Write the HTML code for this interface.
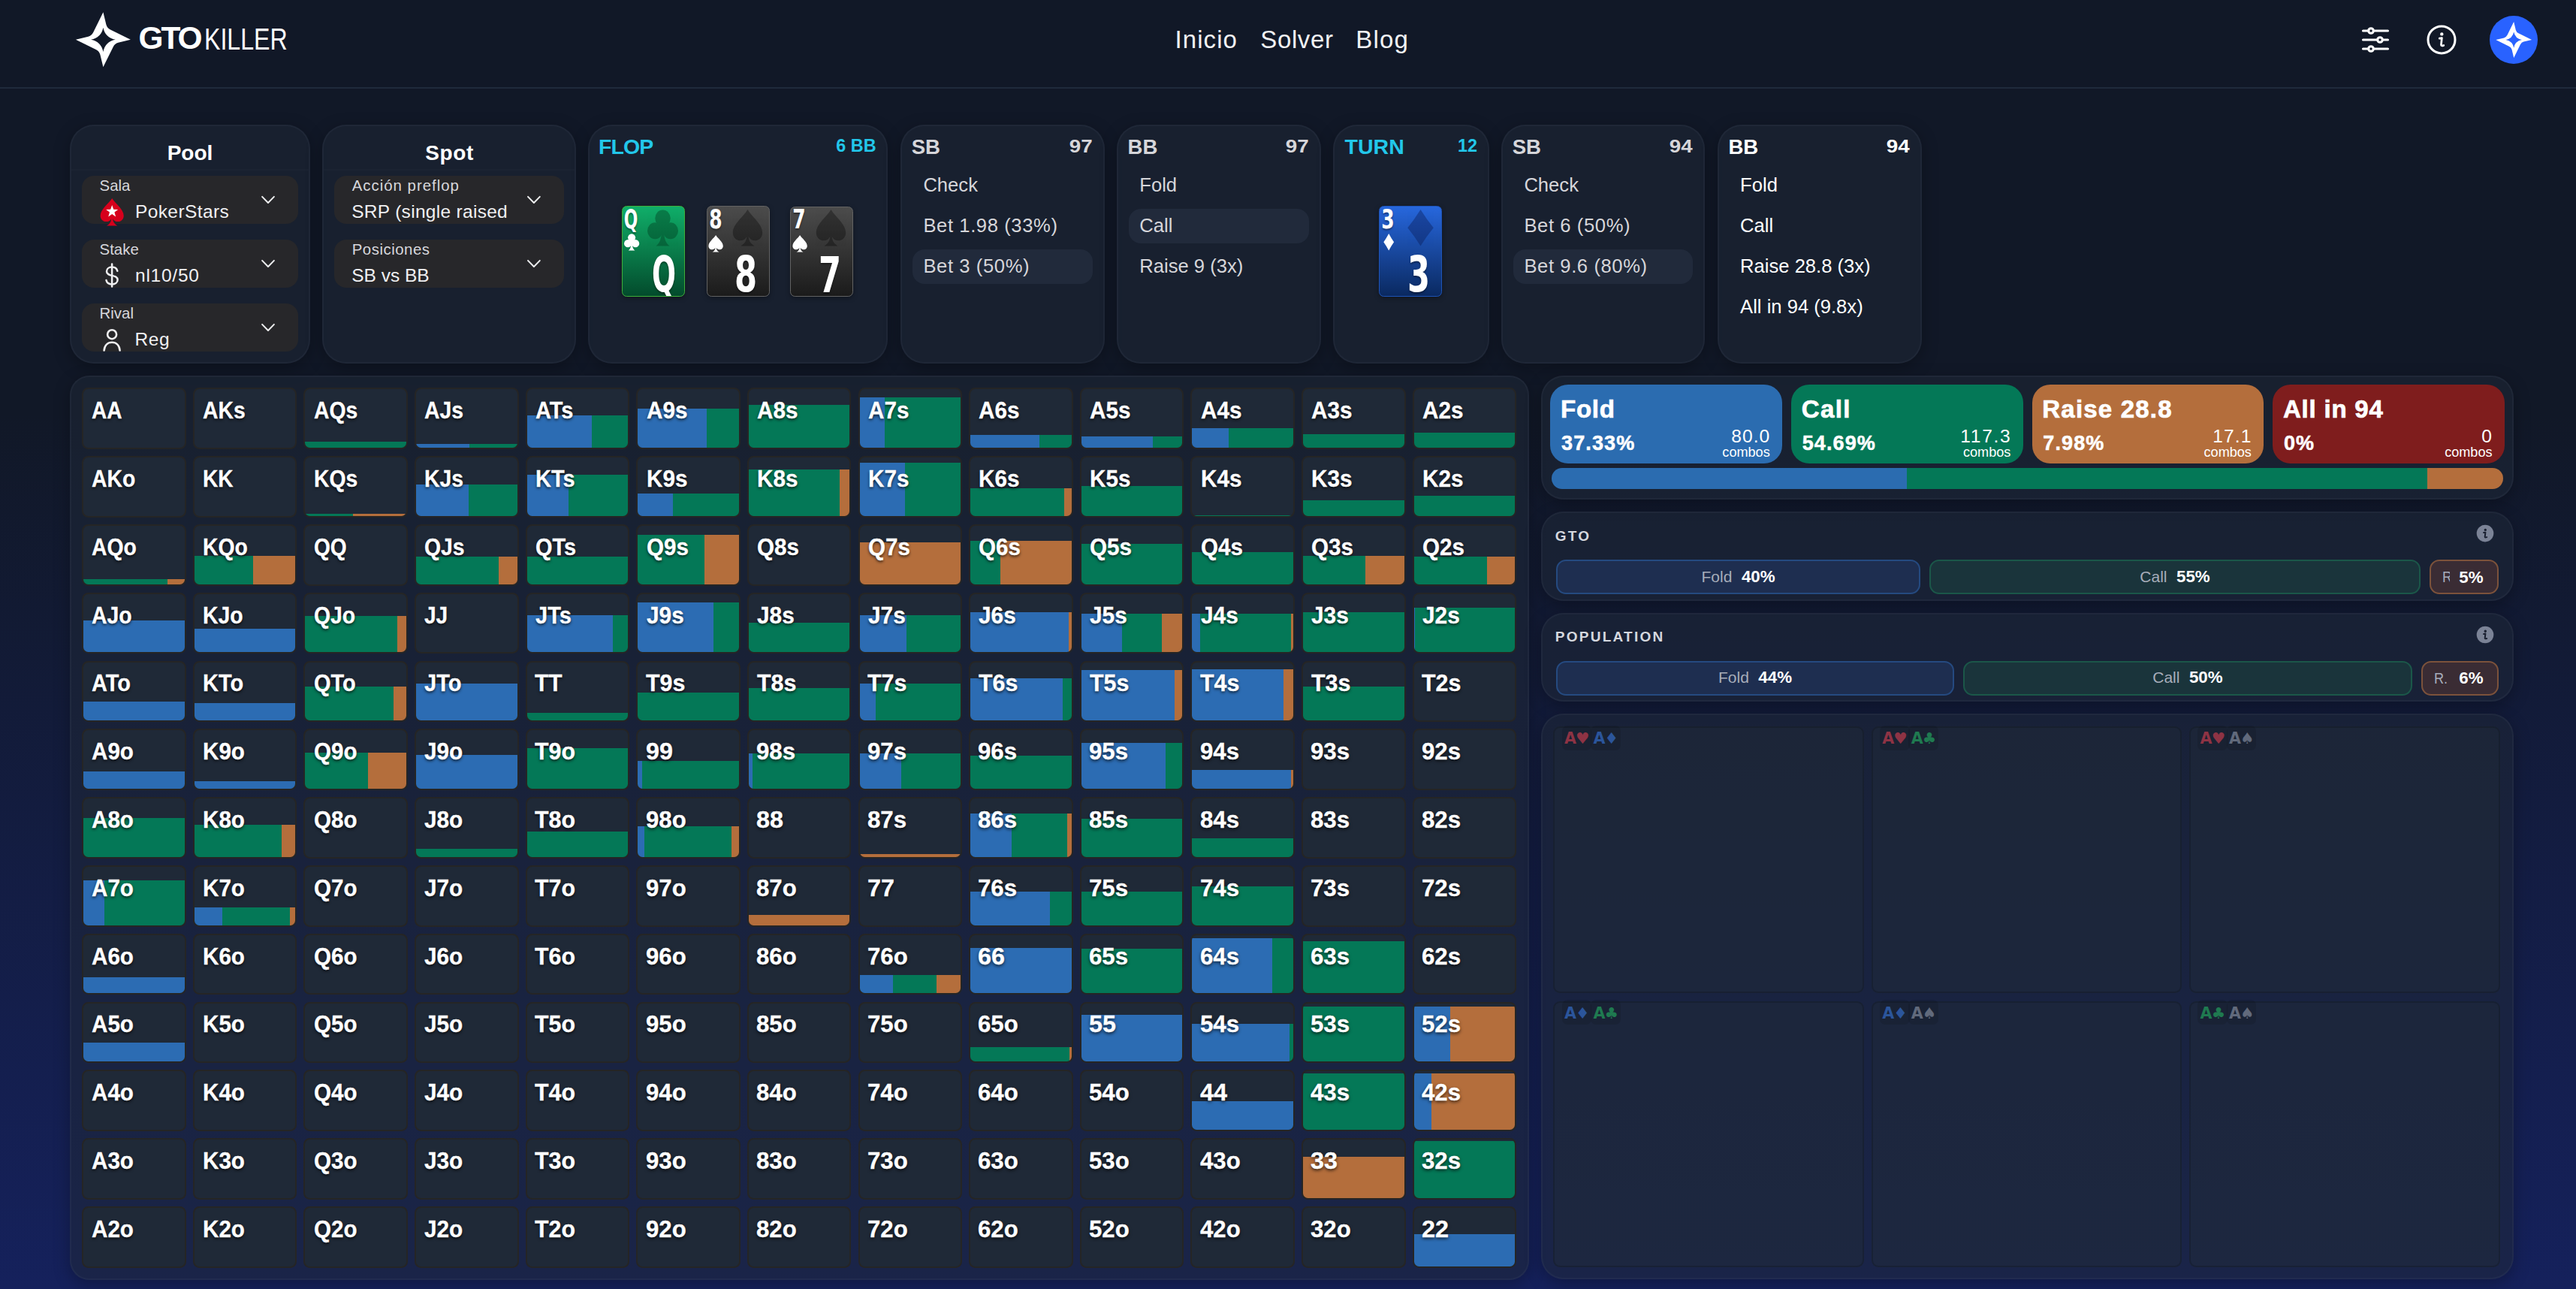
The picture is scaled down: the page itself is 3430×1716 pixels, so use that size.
<!DOCTYPE html>
<html lang="es"><head><meta charset="utf-8"><title>GTO Killer - Solver</title>
<style>
*{box-sizing:border-box;margin:0;padding:0}
html,body{width:3430px;height:1716px;overflow:hidden}
body{position:relative;font-family:"Liberation Sans",sans-serif;color:#fff;
background:linear-gradient(180deg,#111827 0%,#111827 32%,#15215c 100%)}
.t{position:absolute;white-space:nowrap;line-height:1;display:block}
.panel{position:absolute;background:rgba(31,40,56,.52);border:2px solid rgba(148,163,184,.06);
border-radius:32px;box-shadow:0 6px 22px rgba(0,0,0,.28)}
.sel{position:absolute;background:#27272a;border-radius:16px}
.hl{position:absolute;background:#212a3b;border-radius:16px}
.cell{position:absolute;background:#1f2937;border:2px solid #252525;border-radius:8.5px;overflow:hidden}
.cell i{position:absolute;left:0;right:0;bottom:0;display:flex}
.cell i b{display:block;height:100%}
.B{background:#2c6cb3}.G{background:#047857}.O{background:#b46e3c}
.ct{position:absolute;white-space:nowrap;line-height:1;font-weight:700;font-size:30.5px;color:#fff;transform-origin:0 50%;
text-shadow:0 2px 4px rgba(0,0,0,.75);-webkit-text-stroke:.3px #fff}
.sym{font-family:"DejaVu Sans",sans-serif}
svg{position:absolute;overflow:visible}
</style></head>
<body>
<div style="position:absolute;left:0.0px;top:116.0px;width:3430.0px;height:2.0px;background:#1f2a3b"></div>
<svg style="left:0;top:0" width="1" height="1"><path transform="translate(137.4,52.8) scale(1.0)" fill="#fff" fill-rule="evenodd" d="M0,-36.5 L4.00,-20.00 Q5.20,-15.60 9.60,-13.30 L36.50,0.00 L20.00,4.00 Q15.60,5.20 13.30,9.60 L0.00,36.50 L-4.00,20.00 Q-5.20,15.60 -9.60,13.30 L-36.50,0.00 L-20.00,-4.00 Q-15.60,-5.20 -13.30,-9.60 L-0.00,-36.50 Z M0,-16 Q2.6,-2.6 16.3,0 Q2.6,2.6 0,16.3 Q-2.6,2.6 -16.3,0 Q-2.6,-2.6 0,-16 Z"/></svg>
<span class="t" style="left:184.6px;top:29.5px;font-size:42.4px;font-weight:700;color:#fff;letter-spacing:-3.1px;">GTO</span>
<span class="t" style="left:272.0px;top:31.9px;font-size:40px;font-weight:400;color:#fff;transform:scaleX(.803);transform-origin:0 50%;">KILLER</span>
<span class="t" style="left:1564.6px;top:36.2px;font-size:33px;font-weight:400;color:#f1f2f4;letter-spacing:1.05px;">Inicio</span>
<span class="t" style="left:1678.3px;top:36.2px;font-size:33px;font-weight:400;color:#f1f2f4;letter-spacing:0.62px;">Solver</span>
<span class="t" style="left:1805.2px;top:36.2px;font-size:33px;font-weight:400;color:#f1f2f4;letter-spacing:1.2px;">Blog</span>
<svg style="left:0;top:0" width="1" height="1" fill="#111827" stroke="#fff" stroke-width="3.1" stroke-linecap="round"><path d="M3146.5,41H3179.5M3146.5,53H3179.5M3146.5,65H3179.5"/><circle cx="3157" cy="41" r="3.3"/><circle cx="3169" cy="53" r="3.3"/><circle cx="3157" cy="65" r="3.3"/></svg>
<svg style="left:0;top:0" width="1" height="1" fill="none" stroke="#fff" stroke-linecap="round" stroke-linejoin="round"><circle cx="3251" cy="52.9" r="18" stroke-width="3"/><circle cx="3251.3" cy="45.4" r="2.2" fill="#fff" stroke="none"/><path d="M3248.2,51.2 L3251.4,50.6 L3250.4,59.6 Q3250.4,61.6 3253.8,60.4" stroke-width="2.7"/></svg>
<div style="position:absolute;left:3315.2px;top:20.9px;width:64.0px;height:64.0px;background:#2962ff;border-radius:50%"></div>
<svg style="left:0;top:0" width="1" height="1"><path transform="translate(3347.2,53) scale(0.655)" fill="#fff" fill-rule="evenodd" d="M0,-36.5 L4.00,-20.00 Q5.20,-15.60 9.60,-13.30 L36.50,0.00 L20.00,4.00 Q15.60,5.20 13.30,9.60 L0.00,36.50 L-4.00,20.00 Q-5.20,15.60 -9.60,13.30 L-36.50,0.00 L-20.00,-4.00 Q-15.60,-5.20 -13.30,-9.60 L-0.00,-36.50 Z M0,-16 Q2.6,-2.6 16.3,0 Q2.6,2.6 0,16.3 Q-2.6,2.6 -16.3,0 Q-2.6,-2.6 0,-16 Z"/></svg>
<div class="panel" style="left:93.3px;top:166.3px;width:320px;height:317.3px"></div>
<div style="position:absolute;left:95.3px;top:225.0px;width:316.0px;height:2.0px;background:rgba(255,255,255,.014)"></div>
<span class="t" style="left:222.7px;top:190.3px;font-size:28px;font-weight:700;color:#fff;">Pool</span>
<div class="sel" style="left:109px;top:234px;width:288.2px;height:64px"></div><span class="t" style="left:132.6px;top:236.5px;font-size:20.4px;font-weight:400;color:#d7d7dc;letter-spacing:0px;">Sala</span><span class="t" style="left:179.9px;top:269.5px;font-size:24.5px;font-weight:400;color:#f0f0f2;letter-spacing:0.42px;">PokerStars</span><svg style="left:0;top:0" width="1" height="1"><path d="M349.1,261.9 L357.0,270.0 L364.9,261.9" fill="none" stroke="#ecedee" stroke-width="2.0" stroke-linecap="round" stroke-linejoin="round"/></svg><svg style="left:132.8px;top:264px" width="32.4" height="36.4" viewBox="0 0 100 110" preserveAspectRatio="none"><path fill="#d7001c" d="M50,0 C36,22 2,44 2,70 C2,85 14,94 26,94 C35,94 43,90 47,82 C46,95 40,104 28,110 L72,110 C60,104 54,95 53,82 C57,90 65,94 74,94 C86,94 98,85 98,70 C98,44 64,22 50,0 Z"/><path fill="#fff" d="M50,27 L56.2,44.5 L74.7,45 L60,56.2 L65.3,74 L50,63.5 L34.7,74 L40,56.2 L25.3,45 L43.8,44.5 Z"/></svg>
<div class="sel" style="left:109px;top:319px;width:288.2px;height:64px"></div><span class="t" style="left:132.6px;top:321.5px;font-size:20.4px;font-weight:400;color:#d7d7dc;letter-spacing:0px;">Stake</span><span class="t" style="left:180.0px;top:354.5px;font-size:24.5px;font-weight:400;color:#f0f0f2;letter-spacing:0.75px;">nl10/50</span><svg style="left:0;top:0" width="1" height="1"><path d="M349.1,346.9 L357.0,355.0 L364.9,346.9" fill="none" stroke="#ecedee" stroke-width="2.0" stroke-linecap="round" stroke-linejoin="round"/></svg><svg style="left:0;top:0" width="1" height="1" fill="none" stroke="#f0f0f2" stroke-width="2.5" stroke-linecap="round"><path d="M149.1,351.6V381.6"/><path d="M156.3,360.8 C155.5,357.2 152.6,355.6 149.1,355.6 C145,355.6 142,357.9 142,361.2 C142,369.2 156.6,364.6 156.6,372.6 C156.6,376 153.4,378.4 149.1,378.4 C145.2,378.4 142.2,376.6 141.5,373"/></svg>
<div class="sel" style="left:109px;top:404px;width:288.2px;height:64px"></div><span class="t" style="left:132.6px;top:406.5px;font-size:20.4px;font-weight:400;color:#d7d7dc;letter-spacing:0px;">Rival</span><span class="t" style="left:179.6px;top:439.5px;font-size:24.5px;font-weight:400;color:#f0f0f2;letter-spacing:0.5px;">Reg</span><svg style="left:0;top:0" width="1" height="1"><path d="M349.1,431.9 L357.0,440.0 L364.9,431.9" fill="none" stroke="#ecedee" stroke-width="2.0" stroke-linecap="round" stroke-linejoin="round"/></svg><svg style="left:0;top:0" width="1" height="1" fill="none" stroke="#f0f0f2" stroke-width="2.6" stroke-linecap="round"><circle cx="149.1" cy="445.2" r="6"/><path d="M138.6,466.5 C139.2,459.8 143.4,455.7 149.1,455.7 C154.8,455.7 159,459.8 159.6,466.5"/></svg>
<div class="panel" style="left:429.3px;top:166.3px;width:337.8px;height:317.3px"></div>
<div style="position:absolute;left:431.3px;top:225.0px;width:333.8px;height:2.0px;background:rgba(255,255,255,.014)"></div>
<span class="t" style="left:566.2px;top:190.3px;font-size:28px;font-weight:700;color:#fff;letter-spacing:.65px;">Spot</span>
<div class="sel" style="left:445.1px;top:234px;width:306px;height:64px"></div><span class="t" style="left:468.7px;top:236.5px;font-size:20.4px;font-weight:400;color:#d7d7dc;letter-spacing:1.0px;">Acción preflop</span><span class="t" style="left:468.2px;top:269.5px;font-size:24.5px;font-weight:400;color:#f0f0f2;letter-spacing:0.3px;">SRP (single raised</span><svg style="left:0;top:0" width="1" height="1"><path d="M703.0,261.9 L710.9,270.0 L718.8,261.9" fill="none" stroke="#ecedee" stroke-width="2.0" stroke-linecap="round" stroke-linejoin="round"/></svg>
<div class="sel" style="left:445.1px;top:319px;width:306px;height:64px"></div><span class="t" style="left:468.7px;top:321.5px;font-size:20.4px;font-weight:400;color:#d7d7dc;letter-spacing:0.52px;">Posiciones</span><span class="t" style="left:468.2px;top:354.5px;font-size:24.5px;font-weight:400;color:#f0f0f2;letter-spacing:0px;">SB vs BB</span><svg style="left:0;top:0" width="1" height="1"><path d="M703.0,346.9 L710.9,355.0 L718.8,346.9" fill="none" stroke="#ecedee" stroke-width="2.0" stroke-linecap="round" stroke-linejoin="round"/></svg>
<div class="panel" style="left:783.1px;top:166.3px;width:399.4px;height:317.3px"></div>
<span class="t" style="left:797.0px;top:181.1px;font-size:28.5px;font-weight:700;color:#22c7ea;letter-spacing:-.95px;">FLOP</span>
<span class="t" style="right:2263.4px;top:183.1px;font-size:23.4px;font-weight:700;color:#22c7ea;">6 BB</span>
<div style="position:absolute;left:828.1px;top:274.0px;width:84.0px;height:120.5px;background:linear-gradient(180deg,#10ae69,#034b2c);border:1.5px solid #3fae3a;border-radius:6.5px;overflow:hidden;box-shadow:0 2px 6px rgba(0,0,0,.35)"><svg style="left:33.4px;top:3.8px;opacity:0.42" width="41.0" height="48.4" viewBox="0 0 100 110" preserveAspectRatio="none" fill="#003d20"><circle cx="50" cy="26" r="25"/><circle cx="25" cy="64" r="25"/><circle cx="75" cy="64" r="25"/><circle cx="50" cy="54" r="14"/><path d="M46,60 C46,86 42,100 28,110 L72,110 C58,100 54,86 54,60 Z"/></svg><span class="t" style="left:-18.8px;top:-1.4px;font-size:35.4px;font-weight:700;color:#fff;width:60px;text-align:center;transform:scaleX(0.615);text-shadow:0 2px 3px rgba(0,0,0,.4);font-family:'DejaVu Sans','Liberation Sans',sans-serif;">Q</span><svg style="left:1.9px;top:35.6px;opacity:1" width="20.2" height="22.6" viewBox="0 0 100 110" preserveAspectRatio="none" fill="#fff"><circle cx="50" cy="26" r="25"/><circle cx="25" cy="64" r="25"/><circle cx="75" cy="64" r="25"/><circle cx="50" cy="54" r="14"/><path d="M46,60 C46,86 42,100 28,110 L72,110 C58,100 54,86 54,60 Z"/></svg><span class="t" style="left:4.6px;top:58.2px;font-size:65.5px;font-weight:700;color:#fff;width:100px;text-align:center;transform:scaleX(0.575);text-shadow:0 2px 3px rgba(0,0,0,.4);font-family:'DejaVu Sans','Liberation Sans',sans-serif;">Q</span></div>
<div style="position:absolute;left:940.6px;top:274.3px;width:84.0px;height:120.5px;background:linear-gradient(180deg,#4c4c4c,#1b1b1b);border:1.5px solid #626262;border-radius:6.5px;overflow:hidden;box-shadow:0 2px 6px rgba(0,0,0,.35)"><svg style="left:33.4px;top:3.8px;opacity:0.33" width="41.0" height="48.4" viewBox="0 0 100 110" preserveAspectRatio="none" fill="#000"><path d="M50,0 C36,22 2,44 2,70 C2,85 14,94 26,94 C35,94 43,90 47,82 C46,95 40,104 28,110 L72,110 C60,104 54,95 53,82 C57,90 65,94 74,94 C86,94 98,85 98,70 C98,44 64,22 50,0 Z"/></svg><span class="t" style="left:-18.8px;top:-1.4px;font-size:35.4px;font-weight:700;color:#fff;width:60px;text-align:center;transform:scaleX(0.706);text-shadow:0 2px 3px rgba(0,0,0,.4);font-family:'DejaVu Sans','Liberation Sans',sans-serif;">8</span><svg style="left:1.9px;top:37.8px;opacity:1" width="20.2" height="22.6" viewBox="0 0 100 110" preserveAspectRatio="none" fill="#fff"><path d="M50,0 C36,22 2,44 2,70 C2,85 14,94 26,94 C35,94 43,90 47,82 C46,95 40,104 28,110 L72,110 C60,104 54,95 53,82 C57,90 65,94 74,94 C86,94 98,85 98,70 C98,44 64,22 50,0 Z"/></svg><span class="t" style="left:1.6px;top:58.2px;font-size:65.5px;font-weight:700;color:#fff;width:100px;text-align:center;transform:scaleX(0.66);text-shadow:0 2px 3px rgba(0,0,0,.4);font-family:'DejaVu Sans','Liberation Sans',sans-serif;">8</span></div>
<div style="position:absolute;left:1052.0px;top:274.6px;width:84.0px;height:120.5px;background:linear-gradient(180deg,#4c4c4c,#1b1b1b);border:1.5px solid #626262;border-radius:6.5px;overflow:hidden;box-shadow:0 2px 6px rgba(0,0,0,.35)"><svg style="left:33.4px;top:3.8px;opacity:0.33" width="41.0" height="48.4" viewBox="0 0 100 110" preserveAspectRatio="none" fill="#000"><path d="M50,0 C36,22 2,44 2,70 C2,85 14,94 26,94 C35,94 43,90 47,82 C46,95 40,104 28,110 L72,110 C60,104 54,95 53,82 C57,90 65,94 74,94 C86,94 98,85 98,70 C98,44 64,22 50,0 Z"/></svg><span class="t" style="left:-18.8px;top:-1.4px;font-size:35.4px;font-weight:700;color:#fff;width:60px;text-align:center;transform:scaleX(0.706);text-shadow:0 2px 3px rgba(0,0,0,.4);font-family:'DejaVu Sans','Liberation Sans',sans-serif;">7</span><svg style="left:1.9px;top:37.8px;opacity:1" width="20.2" height="22.6" viewBox="0 0 100 110" preserveAspectRatio="none" fill="#fff"><path d="M50,0 C36,22 2,44 2,70 C2,85 14,94 26,94 C35,94 43,90 47,82 C46,95 40,104 28,110 L72,110 C60,104 54,95 53,82 C57,90 65,94 74,94 C86,94 98,85 98,70 C98,44 64,22 50,0 Z"/></svg><span class="t" style="left:1.6px;top:58.2px;font-size:65.5px;font-weight:700;color:#fff;width:100px;text-align:center;transform:scaleX(0.66);text-shadow:0 2px 3px rgba(0,0,0,.4);font-family:'DejaVu Sans','Liberation Sans',sans-serif;">7</span></div>
<div class="panel" style="left:1199.3px;top:166.3px;width:271.7px;height:317.3px"></div><span class="t" style="left:1213.7px;top:181.6px;font-size:27.6px;font-weight:700;color:#d6d6da;">SB</span><span class="t" style="right:1975.6px;top:183.3px;font-size:24.8px;font-weight:700;color:#d6d6da;transform:scaleX(1.12);transform-origin:100% 50%;">97</span><span class="t" style="left:1229.4px;top:234.0px;font-size:25.6px;font-weight:400;color:#d6d6da;letter-spacing:0px;">Check</span><span class="t" style="left:1229.4px;top:288.0px;font-size:25.6px;font-weight:400;color:#d6d6da;letter-spacing:0.6px;">Bet 1.98 (33%)</span><div class="hl" style="left:1215.3px;top:332px;width:239.7px;height:46px"></div><span class="t" style="left:1229.4px;top:342.0px;font-size:25.6px;font-weight:400;color:#d6d6da;letter-spacing:0.6px;">Bet 3 (50%)</span>
<div class="panel" style="left:1487.2px;top:166.3px;width:271.7px;height:317.3px"></div><span class="t" style="left:1501.6px;top:181.6px;font-size:27.6px;font-weight:700;color:#d6d6da;">BB</span><span class="t" style="right:1687.7px;top:183.3px;font-size:24.8px;font-weight:700;color:#d6d6da;transform:scaleX(1.12);transform-origin:100% 50%;">97</span><span class="t" style="left:1517.3px;top:234.0px;font-size:25.6px;font-weight:400;color:#d6d6da;letter-spacing:0px;">Fold</span><div class="hl" style="left:1503.2px;top:278px;width:239.7px;height:46px"></div><span class="t" style="left:1517.3px;top:288.0px;font-size:25.6px;font-weight:400;color:#d6d6da;letter-spacing:0px;">Call</span><span class="t" style="left:1517.3px;top:342.0px;font-size:25.6px;font-weight:400;color:#d6d6da;letter-spacing:0px;">Raise 9 (3x)</span>
<div class="panel" style="left:1775.2px;top:166.3px;width:207.5px;height:317.3px"></div>
<span class="t" style="left:1790.6px;top:181.3px;font-size:28.5px;font-weight:700;color:#22c7ea;">TURN</span>
<span class="t" style="right:1463.0px;top:183.4px;font-size:23.4px;font-weight:700;color:#22c7ea;">12</span>
<div style="position:absolute;left:1836.2px;top:274.0px;width:84.0px;height:120.5px;background:linear-gradient(180deg,#2767dd,#0a2960);border:1.5px solid #1e54b8;border-radius:6.5px;overflow:hidden;box-shadow:0 2px 6px rgba(0,0,0,.35)"><svg style="left:33.4px;top:3.8px;opacity:0.42" width="41.0" height="48.4" viewBox="0 0 100 110" preserveAspectRatio="none" fill="#0a1e5a"><path d="M50,0 Q70,30 92,55 Q70,80 50,110 Q30,80 8,55 Q30,30 50,0 Z"/></svg><span class="t" style="left:-18.8px;top:-1.4px;font-size:35.4px;font-weight:700;color:#fff;width:60px;text-align:center;transform:scaleX(0.706);text-shadow:0 2px 3px rgba(0,0,0,.4);font-family:'DejaVu Sans','Liberation Sans',sans-serif;">3</span><svg style="left:3.8px;top:36.3px;opacity:1" width="16.4" height="22.6" viewBox="0 0 100 110" preserveAspectRatio="none" fill="#fff"><path d="M50,0 Q70,30 92,55 Q70,80 50,110 Q30,80 8,55 Q30,30 50,0 Z"/></svg><span class="t" style="left:1.6px;top:58.2px;font-size:65.5px;font-weight:700;color:#fff;width:100px;text-align:center;transform:scaleX(0.66);text-shadow:0 2px 3px rgba(0,0,0,.4);font-family:'DejaVu Sans','Liberation Sans',sans-serif;">3</span></div>
<div class="panel" style="left:1999.3px;top:166.3px;width:271px;height:317.3px"></div><span class="t" style="left:2013.7px;top:181.6px;font-size:27.6px;font-weight:700;color:#d6d6da;">SB</span><span class="t" style="right:1176.3px;top:183.3px;font-size:24.8px;font-weight:700;color:#d6d6da;transform:scaleX(1.12);transform-origin:100% 50%;">94</span><span class="t" style="left:2029.4px;top:234.0px;font-size:25.6px;font-weight:400;color:#d6d6da;letter-spacing:0px;">Check</span><span class="t" style="left:2029.4px;top:288.0px;font-size:25.6px;font-weight:400;color:#d6d6da;letter-spacing:0.6px;">Bet 6 (50%)</span><div class="hl" style="left:2015.3px;top:332px;width:239px;height:46px"></div><span class="t" style="left:2029.4px;top:342.0px;font-size:25.6px;font-weight:400;color:#d6d6da;letter-spacing:0.6px;">Bet 9.6 (80%)</span>
<div class="panel" style="left:2287px;top:166.3px;width:272px;height:317.3px"></div><span class="t" style="left:2301.4px;top:181.6px;font-size:27.6px;font-weight:700;color:#fff;">BB</span><span class="t" style="right:887.6px;top:183.3px;font-size:24.8px;font-weight:700;color:#fff;transform:scaleX(1.12);transform-origin:100% 50%;">94</span><span class="t" style="left:2317.1px;top:234.0px;font-size:25.6px;font-weight:400;color:#fff;letter-spacing:0px;">Fold</span><span class="t" style="left:2317.1px;top:288.0px;font-size:25.6px;font-weight:400;color:#fff;letter-spacing:0px;">Call</span><span class="t" style="left:2317.1px;top:342.0px;font-size:25.6px;font-weight:400;color:#fff;letter-spacing:0px;">Raise 28.8 (3x)</span><span class="t" style="left:2317.1px;top:396.0px;font-size:25.6px;font-weight:400;color:#fff;letter-spacing:0px;">All in 94 (9.8x)</span>
<div class="panel" style="left:93px;top:500px;width:1942.7px;height:1203.8px;border-radius:26px"></div>
<div class="cell" style="left:109.1px;top:516.3px;width:138.6px;height:81.8px"><span class="ct" style="left:11.4px;top:12.9px;transform:scaleX(0.920)">AA</span></div>
<div class="cell" style="left:256.7px;top:516.3px;width:138.6px;height:81.8px"><span class="ct" style="left:11.4px;top:12.9px;transform:scaleX(0.928)">AKs</span></div>
<div class="cell" style="left:404.4px;top:516.3px;width:138.6px;height:81.8px"><i style="height:10%"><b class="G" style="width:100%"></b></i><span class="ct" style="left:11.4px;top:12.9px;transform:scaleX(0.928)">AQs</span></div>
<div class="cell" style="left:552.0px;top:516.3px;width:138.6px;height:81.8px"><i style="height:7%"><b class="B" style="width:53%"></b><b class="G" style="width:47%"></b></i><span class="ct" style="left:11.4px;top:12.9px;transform:scaleX(0.929)">AJs</span></div>
<div class="cell" style="left:699.6px;top:516.3px;width:138.6px;height:81.8px"><i style="height:55%"><b class="B" style="width:64%"></b><b class="G" style="width:36%"></b></i><span class="ct" style="left:11.4px;top:12.9px;transform:scaleX(0.948)">ATs</span></div>
<div class="cell" style="left:847.2px;top:516.3px;width:138.6px;height:81.8px"><i style="height:67%"><b class="B" style="width:68%"></b><b class="G" style="width:32%"></b></i><span class="ct" style="left:11.4px;top:12.9px;transform:scaleX(0.972)">A9s</span></div>
<div class="cell" style="left:994.9px;top:516.3px;width:138.6px;height:81.8px"><i style="height:73%"><b class="G" style="width:100%"></b></i><span class="ct" style="left:11.4px;top:12.9px;transform:scaleX(0.972)">A8s</span></div>
<div class="cell" style="left:1142.5px;top:516.3px;width:138.6px;height:81.8px"><i style="height:86%"><b class="B" style="width:25%"></b><b class="G" style="width:75%"></b></i><span class="ct" style="left:11.4px;top:12.9px;transform:scaleX(0.972)">A7s</span></div>
<div class="cell" style="left:1290.1px;top:516.3px;width:138.6px;height:81.8px"><i style="height:21.5%"><b class="B" style="width:68%"></b><b class="G" style="width:32%"></b></i><span class="ct" style="left:11.4px;top:12.9px;transform:scaleX(0.972)">A6s</span></div>
<div class="cell" style="left:1437.8px;top:516.3px;width:138.6px;height:81.8px"><i style="height:20%"><b class="B" style="width:71%"></b><b class="G" style="width:29%"></b></i><span class="ct" style="left:11.4px;top:12.9px;transform:scaleX(0.972)">A5s</span></div>
<div class="cell" style="left:1585.4px;top:516.3px;width:138.6px;height:81.8px"><i style="height:34%"><b class="B" style="width:36%"></b><b class="G" style="width:64%"></b></i><span class="ct" style="left:11.4px;top:12.9px;transform:scaleX(0.972)">A4s</span></div>
<div class="cell" style="left:1733.0px;top:516.3px;width:138.6px;height:81.8px"><i style="height:23%"><b class="G" style="width:100%"></b></i><span class="ct" style="left:11.4px;top:12.9px;transform:scaleX(0.972)">A3s</span></div>
<div class="cell" style="left:1880.7px;top:516.3px;width:138.6px;height:81.8px"><i style="height:25.5%"><b class="G" style="width:100%"></b></i><span class="ct" style="left:11.4px;top:12.9px;transform:scaleX(0.972)">A2s</span></div>
<div class="cell" style="left:109.1px;top:607.1px;width:138.6px;height:81.8px"><span class="ct" style="left:11.4px;top:12.9px;transform:scaleX(0.929)">AKo</span></div>
<div class="cell" style="left:256.7px;top:607.1px;width:138.6px;height:81.8px"><span class="ct" style="left:11.4px;top:12.9px;transform:scaleX(0.920)">KK</span></div>
<div class="cell" style="left:404.4px;top:607.1px;width:138.6px;height:81.8px"><i style="height:4%"><b class="G" style="width:47%"></b><b class="O" style="width:53%"></b></i><span class="ct" style="left:11.4px;top:12.9px;transform:scaleX(0.928)">KQs</span></div>
<div class="cell" style="left:552.0px;top:607.1px;width:138.6px;height:81.8px"><i style="height:54%"><b class="B" style="width:52%"></b><b class="G" style="width:48%"></b></i><span class="ct" style="left:11.4px;top:12.9px;transform:scaleX(0.929)">KJs</span></div>
<div class="cell" style="left:699.6px;top:607.1px;width:138.6px;height:81.8px"><i style="height:70%"><b class="B" style="width:41%"></b><b class="G" style="width:59%"></b></i><span class="ct" style="left:11.4px;top:12.9px;transform:scaleX(0.948)">KTs</span></div>
<div class="cell" style="left:847.2px;top:607.1px;width:138.6px;height:81.8px"><i style="height:39%"><b class="B" style="width:35%"></b><b class="G" style="width:65%"></b></i><span class="ct" style="left:11.4px;top:12.9px;transform:scaleX(0.972)">K9s</span></div>
<div class="cell" style="left:994.9px;top:607.1px;width:138.6px;height:81.8px"><i style="height:80%"><b class="G" style="width:90%"></b><b class="O" style="width:10%"></b></i><span class="ct" style="left:11.4px;top:12.9px;transform:scaleX(0.972)">K8s</span></div>
<div class="cell" style="left:1142.5px;top:607.1px;width:138.6px;height:81.8px"><i style="height:91%"><b class="B" style="width:45%"></b><b class="G" style="width:55%"></b></i><span class="ct" style="left:11.4px;top:12.9px;transform:scaleX(0.972)">K7s</span></div>
<div class="cell" style="left:1290.1px;top:607.1px;width:138.6px;height:81.8px"><i style="height:48%"><b class="G" style="width:93%"></b><b class="O" style="width:7%"></b></i><span class="ct" style="left:11.4px;top:12.9px;transform:scaleX(0.972)">K6s</span></div>
<div class="cell" style="left:1437.8px;top:607.1px;width:138.6px;height:81.8px"><i style="height:51%"><b class="G" style="width:100%"></b></i><span class="ct" style="left:11.4px;top:12.9px;transform:scaleX(0.972)">K5s</span></div>
<div class="cell" style="left:1585.4px;top:607.1px;width:138.6px;height:81.8px"><i style="height:1.5%"><b class="G" style="width:100%"></b></i><span class="ct" style="left:11.4px;top:12.9px;transform:scaleX(0.972)">K4s</span></div>
<div class="cell" style="left:1733.0px;top:607.1px;width:138.6px;height:81.8px"><i style="height:27%"><b class="G" style="width:100%"></b></i><span class="ct" style="left:11.4px;top:12.9px;transform:scaleX(0.972)">K3s</span></div>
<div class="cell" style="left:1880.7px;top:607.1px;width:138.6px;height:81.8px"><i style="height:34.5%"><b class="G" style="width:100%"></b></i><span class="ct" style="left:11.4px;top:12.9px;transform:scaleX(0.972)">K2s</span></div>
<div class="cell" style="left:109.1px;top:697.9px;width:138.6px;height:81.8px"><i style="height:8%"><b class="G" style="width:83%"></b><b class="O" style="width:17%"></b></i><span class="ct" style="left:11.4px;top:12.9px;transform:scaleX(0.929)">AQo</span></div>
<div class="cell" style="left:256.7px;top:697.9px;width:138.6px;height:81.8px"><i style="height:49%"><b class="G" style="width:58%"></b><b class="O" style="width:42%"></b></i><span class="ct" style="left:11.4px;top:12.9px;transform:scaleX(0.929)">KQo</span></div>
<div class="cell" style="left:404.4px;top:697.9px;width:138.6px;height:81.8px"><span class="ct" style="left:11.4px;top:12.9px;transform:scaleX(0.920)">QQ</span></div>
<div class="cell" style="left:552.0px;top:697.9px;width:138.6px;height:81.8px"><i style="height:47%"><b class="G" style="width:82%"></b><b class="O" style="width:18%"></b></i><span class="ct" style="left:11.4px;top:12.9px;transform:scaleX(0.929)">QJs</span></div>
<div class="cell" style="left:699.6px;top:697.9px;width:138.6px;height:81.8px"><i style="height:47%"><b class="G" style="width:100%"></b></i><span class="ct" style="left:11.4px;top:12.9px;transform:scaleX(0.947)">QTs</span></div>
<div class="cell" style="left:847.2px;top:697.9px;width:138.6px;height:81.8px"><i style="height:85%"><b class="G" style="width:66%"></b><b class="O" style="width:34%"></b></i><span class="ct" style="left:11.4px;top:12.9px;transform:scaleX(0.970)">Q9s</span></div>
<div class="cell" style="left:994.9px;top:697.9px;width:138.6px;height:81.8px"><span class="ct" style="left:11.4px;top:12.9px;transform:scaleX(0.970)">Q8s</span></div>
<div class="cell" style="left:1142.5px;top:697.9px;width:138.6px;height:81.8px"><i style="height:72%"><b class="O" style="width:100%"></b></i><span class="ct" style="left:11.4px;top:12.9px;transform:scaleX(0.970)">Q7s</span></div>
<div class="cell" style="left:1290.1px;top:697.9px;width:138.6px;height:81.8px"><i style="height:74%"><b class="G" style="width:30%"></b><b class="O" style="width:70%"></b></i><span class="ct" style="left:11.4px;top:12.9px;transform:scaleX(0.970)">Q6s</span></div>
<div class="cell" style="left:1437.8px;top:697.9px;width:138.6px;height:81.8px"><i style="height:69%"><b class="G" style="width:100%"></b></i><span class="ct" style="left:11.4px;top:12.9px;transform:scaleX(0.970)">Q5s</span></div>
<div class="cell" style="left:1585.4px;top:697.9px;width:138.6px;height:81.8px"><i style="height:55%"><b class="G" style="width:100%"></b></i><span class="ct" style="left:11.4px;top:12.9px;transform:scaleX(0.970)">Q4s</span></div>
<div class="cell" style="left:1733.0px;top:697.9px;width:138.6px;height:81.8px"><i style="height:48%"><b class="G" style="width:62%"></b><b class="O" style="width:38%"></b></i><span class="ct" style="left:11.4px;top:12.9px;transform:scaleX(0.970)">Q3s</span></div>
<div class="cell" style="left:1880.7px;top:697.9px;width:138.6px;height:81.8px"><i style="height:47%"><b class="G" style="width:72%"></b><b class="O" style="width:28%"></b></i><span class="ct" style="left:11.4px;top:12.9px;transform:scaleX(0.970)">Q2s</span></div>
<div class="cell" style="left:109.1px;top:788.7px;width:138.6px;height:81.8px"><i style="height:54%"><b class="B" style="width:100%"></b></i><span class="ct" style="left:11.4px;top:12.9px;transform:scaleX(0.930)">AJo</span></div>
<div class="cell" style="left:256.7px;top:788.7px;width:138.6px;height:81.8px"><i style="height:41%"><b class="B" style="width:100%"></b></i><span class="ct" style="left:11.4px;top:12.9px;transform:scaleX(0.930)">KJo</span></div>
<div class="cell" style="left:404.4px;top:788.7px;width:138.6px;height:81.8px"><i style="height:62%"><b class="G" style="width:91%"></b><b class="O" style="width:9%"></b></i><span class="ct" style="left:11.4px;top:12.9px;transform:scaleX(0.929)">QJo</span></div>
<div class="cell" style="left:552.0px;top:788.7px;width:138.6px;height:81.8px"><span class="ct" style="left:11.4px;top:12.9px;transform:scaleX(0.920)">JJ</span></div>
<div class="cell" style="left:699.6px;top:788.7px;width:138.6px;height:81.8px"><i style="height:64%"><b class="B" style="width:85%"></b><b class="G" style="width:15%"></b></i><span class="ct" style="left:11.4px;top:12.9px;transform:scaleX(0.951)">JTs</span></div>
<div class="cell" style="left:847.2px;top:788.7px;width:138.6px;height:81.8px"><i style="height:85%"><b class="B" style="width:75%"></b><b class="G" style="width:25%"></b></i><span class="ct" style="left:11.4px;top:12.9px;transform:scaleX(0.977)">J9s</span></div>
<div class="cell" style="left:994.9px;top:788.7px;width:138.6px;height:81.8px"><i style="height:51%"><b class="G" style="width:100%"></b></i><span class="ct" style="left:11.4px;top:12.9px;transform:scaleX(0.977)">J8s</span></div>
<div class="cell" style="left:1142.5px;top:788.7px;width:138.6px;height:81.8px"><i style="height:64%"><b class="B" style="width:46.5%"></b><b class="G" style="width:53.5%"></b></i><span class="ct" style="left:11.4px;top:12.9px;transform:scaleX(0.977)">J7s</span></div>
<div class="cell" style="left:1290.1px;top:788.7px;width:138.6px;height:81.8px"><i style="height:69%"><b class="B" style="width:97.5%"></b><b class="O" style="width:2.5%"></b></i><span class="ct" style="left:11.4px;top:12.9px;transform:scaleX(0.977)">J6s</span></div>
<div class="cell" style="left:1437.8px;top:788.7px;width:138.6px;height:81.8px"><i style="height:66%"><b class="B" style="width:40.5%"></b><b class="G" style="width:39%"></b><b class="O" style="width:20.5%"></b></i><span class="ct" style="left:11.4px;top:12.9px;transform:scaleX(0.977)">J5s</span></div>
<div class="cell" style="left:1585.4px;top:788.7px;width:138.6px;height:81.8px"><i style="height:66%"><b class="B" style="width:8%"></b><b class="G" style="width:89.5%"></b><b class="O" style="width:2.5%"></b></i><span class="ct" style="left:11.4px;top:12.9px;transform:scaleX(0.977)">J4s</span></div>
<div class="cell" style="left:1733.0px;top:788.7px;width:138.6px;height:81.8px"><i style="height:69%"><b class="G" style="width:100%"></b></i><span class="ct" style="left:11.4px;top:12.9px;transform:scaleX(0.977)">J3s</span></div>
<div class="cell" style="left:1880.7px;top:788.7px;width:138.6px;height:81.8px"><i style="height:76%"><b class="B" style="width:1%"></b><b class="G" style="width:99%"></b></i><span class="ct" style="left:11.4px;top:12.9px;transform:scaleX(0.977)">J2s</span></div>
<div class="cell" style="left:109.1px;top:879.5px;width:138.6px;height:81.8px"><i style="height:33%"><b class="B" style="width:100%"></b></i><span class="ct" style="left:11.4px;top:12.9px;transform:scaleX(0.948)">ATo</span></div>
<div class="cell" style="left:256.7px;top:879.5px;width:138.6px;height:81.8px"><i style="height:30%"><b class="B" style="width:100%"></b></i><span class="ct" style="left:11.4px;top:12.9px;transform:scaleX(0.948)">KTo</span></div>
<div class="cell" style="left:404.4px;top:879.5px;width:138.6px;height:81.8px"><i style="height:58.5%"><b class="G" style="width:87.5%"></b><b class="O" style="width:12.5%"></b></i><span class="ct" style="left:11.4px;top:12.9px;transform:scaleX(0.947)">QTo</span></div>
<div class="cell" style="left:552.0px;top:879.5px;width:138.6px;height:81.8px"><i style="height:64%"><b class="B" style="width:100%"></b></i><span class="ct" style="left:11.4px;top:12.9px;transform:scaleX(0.951)">JTo</span></div>
<div class="cell" style="left:699.6px;top:879.5px;width:138.6px;height:81.8px"><i style="height:13.5%"><b class="G" style="width:100%"></b></i><span class="ct" style="left:10.8px;top:12.9px;transform:scaleX(0.980)">TT</span></div>
<div class="cell" style="left:847.2px;top:879.5px;width:138.6px;height:81.8px"><i style="height:48%"><b class="G" style="width:100%"></b></i><span class="ct" style="left:10.8px;top:12.9px;transform:scaleX(0.996)">T9s</span></div>
<div class="cell" style="left:994.9px;top:879.5px;width:138.6px;height:81.8px"><i style="height:56%"><b class="G" style="width:100%"></b></i><span class="ct" style="left:10.8px;top:12.9px;transform:scaleX(0.996)">T8s</span></div>
<div class="cell" style="left:1142.5px;top:879.5px;width:138.6px;height:81.8px"><i style="height:64%"><b class="B" style="width:16%"></b><b class="G" style="width:84%"></b></i><span class="ct" style="left:10.8px;top:12.9px;transform:scaleX(0.996)">T7s</span></div>
<div class="cell" style="left:1290.1px;top:879.5px;width:138.6px;height:81.8px"><i style="height:72%"><b class="B" style="width:91%"></b><b class="G" style="width:9%"></b></i><span class="ct" style="left:10.8px;top:12.9px;transform:scaleX(0.996)">T6s</span></div>
<div class="cell" style="left:1437.8px;top:879.5px;width:138.6px;height:81.8px"><i style="height:87%"><b class="B" style="width:92%"></b><b class="O" style="width:8%"></b></i><span class="ct" style="left:10.8px;top:12.9px;transform:scaleX(0.996)">T5s</span></div>
<div class="cell" style="left:1585.4px;top:879.5px;width:138.6px;height:81.8px"><i style="height:88%"><b class="B" style="width:90%"></b><b class="O" style="width:10%"></b></i><span class="ct" style="left:10.8px;top:12.9px;transform:scaleX(0.996)">T4s</span></div>
<div class="cell" style="left:1733.0px;top:879.5px;width:138.6px;height:81.8px"><i style="height:58%"><b class="G" style="width:100%"></b></i><span class="ct" style="left:10.8px;top:12.9px;transform:scaleX(0.996)">T3s</span></div>
<div class="cell" style="left:1880.7px;top:879.5px;width:138.6px;height:81.8px"><span class="ct" style="left:10.8px;top:12.9px;transform:scaleX(0.996)">T2s</span></div>
<div class="cell" style="left:109.1px;top:970.3px;width:138.6px;height:81.8px"><i style="height:30%"><b class="B" style="width:100%"></b></i><span class="ct" style="left:11.4px;top:12.9px;transform:scaleX(0.971)">A9o</span></div>
<div class="cell" style="left:256.7px;top:970.3px;width:138.6px;height:81.8px"><i style="height:13.5%"><b class="B" style="width:100%"></b></i><span class="ct" style="left:11.4px;top:12.9px;transform:scaleX(0.971)">K9o</span></div>
<div class="cell" style="left:404.4px;top:970.3px;width:138.6px;height:81.8px"><i style="height:62%"><b class="G" style="width:62%"></b><b class="O" style="width:38%"></b></i><span class="ct" style="left:11.4px;top:12.9px;transform:scaleX(0.969)">Q9o</span></div>
<div class="cell" style="left:552.0px;top:970.3px;width:138.6px;height:81.8px"><i style="height:58%"><b class="B" style="width:100%"></b></i><span class="ct" style="left:11.4px;top:12.9px;transform:scaleX(0.976)">J9o</span></div>
<div class="cell" style="left:699.6px;top:970.3px;width:138.6px;height:81.8px"><i style="height:70%"><b class="G" style="width:100%"></b></i><span class="ct" style="left:10.8px;top:12.9px;transform:scaleX(0.995)">T9o</span></div>
<div class="cell" style="left:847.2px;top:970.3px;width:138.6px;height:81.8px"><i style="height:48%"><b class="B" style="width:4%"></b><b class="G" style="width:96%"></b></i><span class="ct" style="left:10.4px;top:12.9px;transform:scaleX(1.060)">99</span></div>
<div class="cell" style="left:994.9px;top:970.3px;width:138.6px;height:81.8px"><i style="height:61%"><b class="B" style="width:4%"></b><b class="G" style="width:96%"></b></i><span class="ct" style="left:10.4px;top:12.9px;transform:scaleX(1.023)">98s</span></div>
<div class="cell" style="left:1142.5px;top:970.3px;width:138.6px;height:81.8px"><i style="height:60%"><b class="B" style="width:41%"></b><b class="G" style="width:59%"></b></i><span class="ct" style="left:10.4px;top:12.9px;transform:scaleX(1.023)">97s</span></div>
<div class="cell" style="left:1290.1px;top:970.3px;width:138.6px;height:81.8px"><i style="height:57%"><b class="G" style="width:100%"></b></i><span class="ct" style="left:10.4px;top:12.9px;transform:scaleX(1.023)">96s</span></div>
<div class="cell" style="left:1437.8px;top:970.3px;width:138.6px;height:81.8px"><i style="height:79%"><b class="B" style="width:83%"></b><b class="G" style="width:17%"></b></i><span class="ct" style="left:10.4px;top:12.9px;transform:scaleX(1.023)">95s</span></div>
<div class="cell" style="left:1585.4px;top:970.3px;width:138.6px;height:81.8px"><i style="height:32%"><b class="B" style="width:98%"></b><b class="O" style="width:2%"></b></i><span class="ct" style="left:10.4px;top:12.9px;transform:scaleX(1.023)">94s</span></div>
<div class="cell" style="left:1733.0px;top:970.3px;width:138.6px;height:81.8px"><span class="ct" style="left:10.4px;top:12.9px;transform:scaleX(1.023)">93s</span></div>
<div class="cell" style="left:1880.7px;top:970.3px;width:138.6px;height:81.8px"><span class="ct" style="left:10.4px;top:12.9px;transform:scaleX(1.023)">92s</span></div>
<div class="cell" style="left:109.1px;top:1061.1px;width:138.6px;height:81.8px"><i style="height:67%"><b class="G" style="width:100%"></b></i><span class="ct" style="left:11.4px;top:12.9px;transform:scaleX(0.971)">A8o</span></div>
<div class="cell" style="left:256.7px;top:1061.1px;width:138.6px;height:81.8px"><i style="height:55.5%"><b class="G" style="width:86.5%"></b><b class="O" style="width:13.5%"></b></i><span class="ct" style="left:11.4px;top:12.9px;transform:scaleX(0.971)">K8o</span></div>
<div class="cell" style="left:404.4px;top:1061.1px;width:138.6px;height:81.8px"><span class="ct" style="left:11.4px;top:12.9px;transform:scaleX(0.969)">Q8o</span></div>
<div class="cell" style="left:552.0px;top:1061.1px;width:138.6px;height:81.8px"><i style="height:13.5%"><b class="G" style="width:100%"></b></i><span class="ct" style="left:11.4px;top:12.9px;transform:scaleX(0.976)">J8o</span></div>
<div class="cell" style="left:699.6px;top:1061.1px;width:138.6px;height:81.8px"><i style="height:44%"><b class="G" style="width:100%"></b></i><span class="ct" style="left:10.8px;top:12.9px;transform:scaleX(0.995)">T8o</span></div>
<div class="cell" style="left:847.2px;top:1061.1px;width:138.6px;height:81.8px"><i style="height:52%"><b class="B" style="width:6.5%"></b><b class="G" style="width:86.5%"></b><b class="O" style="width:7%"></b></i><span class="ct" style="left:10.4px;top:12.9px;transform:scaleX(1.021)">98o</span></div>
<div class="cell" style="left:994.9px;top:1061.1px;width:138.6px;height:81.8px"><span class="ct" style="left:10.4px;top:12.9px;transform:scaleX(1.060)">88</span></div>
<div class="cell" style="left:1142.5px;top:1061.1px;width:138.6px;height:81.8px"><i style="height:4.5%"><b class="O" style="width:100%"></b></i><span class="ct" style="left:10.4px;top:12.9px;transform:scaleX(1.023)">87s</span></div>
<div class="cell" style="left:1290.1px;top:1061.1px;width:138.6px;height:81.8px"><i style="height:75%"><b class="B" style="width:40.5%"></b><b class="G" style="width:55.5%"></b><b class="O" style="width:4%"></b></i><span class="ct" style="left:10.4px;top:12.9px;transform:scaleX(1.023)">86s</span></div>
<div class="cell" style="left:1437.8px;top:1061.1px;width:138.6px;height:81.8px"><i style="height:65%"><b class="G" style="width:100%"></b></i><span class="ct" style="left:10.4px;top:12.9px;transform:scaleX(1.023)">85s</span></div>
<div class="cell" style="left:1585.4px;top:1061.1px;width:138.6px;height:81.8px"><i style="height:32%"><b class="G" style="width:100%"></b></i><span class="ct" style="left:10.4px;top:12.9px;transform:scaleX(1.023)">84s</span></div>
<div class="cell" style="left:1733.0px;top:1061.1px;width:138.6px;height:81.8px"><span class="ct" style="left:10.4px;top:12.9px;transform:scaleX(1.023)">83s</span></div>
<div class="cell" style="left:1880.7px;top:1061.1px;width:138.6px;height:81.8px"><span class="ct" style="left:10.4px;top:12.9px;transform:scaleX(1.023)">82s</span></div>
<div class="cell" style="left:109.1px;top:1151.9px;width:138.6px;height:81.8px"><i style="height:77%"><b class="B" style="width:20.5%"></b><b class="G" style="width:79.5%"></b></i><span class="ct" style="left:11.4px;top:12.9px;transform:scaleX(0.971)">A7o</span></div>
<div class="cell" style="left:256.7px;top:1151.9px;width:138.6px;height:81.8px"><i style="height:31%"><b class="B" style="width:27.5%"></b><b class="G" style="width:67%"></b><b class="O" style="width:5.5%"></b></i><span class="ct" style="left:11.4px;top:12.9px;transform:scaleX(0.971)">K7o</span></div>
<div class="cell" style="left:404.4px;top:1151.9px;width:138.6px;height:81.8px"><span class="ct" style="left:11.4px;top:12.9px;transform:scaleX(0.969)">Q7o</span></div>
<div class="cell" style="left:552.0px;top:1151.9px;width:138.6px;height:81.8px"><span class="ct" style="left:11.4px;top:12.9px;transform:scaleX(0.976)">J7o</span></div>
<div class="cell" style="left:699.6px;top:1151.9px;width:138.6px;height:81.8px"><span class="ct" style="left:10.8px;top:12.9px;transform:scaleX(0.995)">T7o</span></div>
<div class="cell" style="left:847.2px;top:1151.9px;width:138.6px;height:81.8px"><span class="ct" style="left:10.4px;top:12.9px;transform:scaleX(1.021)">97o</span></div>
<div class="cell" style="left:994.9px;top:1151.9px;width:138.6px;height:81.8px"><i style="height:18%"><b class="O" style="width:100%"></b></i><span class="ct" style="left:10.4px;top:12.9px;transform:scaleX(1.021)">87o</span></div>
<div class="cell" style="left:1142.5px;top:1151.9px;width:138.6px;height:81.8px"><span class="ct" style="left:10.4px;top:12.9px;transform:scaleX(1.060)">77</span></div>
<div class="cell" style="left:1290.1px;top:1151.9px;width:138.6px;height:81.8px"><i style="height:58%"><b class="B" style="width:79%"></b><b class="G" style="width:21%"></b></i><span class="ct" style="left:10.4px;top:12.9px;transform:scaleX(1.023)">76s</span></div>
<div class="cell" style="left:1437.8px;top:1151.9px;width:138.6px;height:81.8px"><i style="height:57%"><b class="G" style="width:100%"></b></i><span class="ct" style="left:10.4px;top:12.9px;transform:scaleX(1.023)">75s</span></div>
<div class="cell" style="left:1585.4px;top:1151.9px;width:138.6px;height:81.8px"><i style="height:67%"><b class="G" style="width:100%"></b></i><span class="ct" style="left:10.4px;top:12.9px;transform:scaleX(1.023)">74s</span></div>
<div class="cell" style="left:1733.0px;top:1151.9px;width:138.6px;height:81.8px"><span class="ct" style="left:10.4px;top:12.9px;transform:scaleX(1.023)">73s</span></div>
<div class="cell" style="left:1880.7px;top:1151.9px;width:138.6px;height:81.8px"><span class="ct" style="left:10.4px;top:12.9px;transform:scaleX(1.023)">72s</span></div>
<div class="cell" style="left:109.1px;top:1242.7px;width:138.6px;height:81.8px"><i style="height:27.5%"><b class="B" style="width:100%"></b></i><span class="ct" style="left:11.4px;top:12.9px;transform:scaleX(0.971)">A6o</span></div>
<div class="cell" style="left:256.7px;top:1242.7px;width:138.6px;height:81.8px"><span class="ct" style="left:11.4px;top:12.9px;transform:scaleX(0.971)">K6o</span></div>
<div class="cell" style="left:404.4px;top:1242.7px;width:138.6px;height:81.8px"><span class="ct" style="left:11.4px;top:12.9px;transform:scaleX(0.969)">Q6o</span></div>
<div class="cell" style="left:552.0px;top:1242.7px;width:138.6px;height:81.8px"><span class="ct" style="left:11.4px;top:12.9px;transform:scaleX(0.976)">J6o</span></div>
<div class="cell" style="left:699.6px;top:1242.7px;width:138.6px;height:81.8px"><span class="ct" style="left:10.8px;top:12.9px;transform:scaleX(0.995)">T6o</span></div>
<div class="cell" style="left:847.2px;top:1242.7px;width:138.6px;height:81.8px"><span class="ct" style="left:10.4px;top:12.9px;transform:scaleX(1.021)">96o</span></div>
<div class="cell" style="left:994.9px;top:1242.7px;width:138.6px;height:81.8px"><span class="ct" style="left:10.4px;top:12.9px;transform:scaleX(1.021)">86o</span></div>
<div class="cell" style="left:1142.5px;top:1242.7px;width:138.6px;height:81.8px"><i style="height:32%"><b class="B" style="width:33%"></b><b class="G" style="width:43%"></b><b class="O" style="width:24%"></b></i><span class="ct" style="left:10.4px;top:12.9px;transform:scaleX(1.021)">76o</span></div>
<div class="cell" style="left:1290.1px;top:1242.7px;width:138.6px;height:81.8px"><i style="height:78%"><b class="B" style="width:100%"></b></i><span class="ct" style="left:10.4px;top:12.9px;transform:scaleX(1.060)">66</span></div>
<div class="cell" style="left:1437.8px;top:1242.7px;width:138.6px;height:81.8px"><i style="height:77%"><b class="G" style="width:100%"></b></i><span class="ct" style="left:10.4px;top:12.9px;transform:scaleX(1.023)">65s</span></div>
<div class="cell" style="left:1585.4px;top:1242.7px;width:138.6px;height:81.8px"><i style="height:94.5%"><b class="B" style="width:79%"></b><b class="G" style="width:21%"></b></i><span class="ct" style="left:10.4px;top:12.9px;transform:scaleX(1.023)">64s</span></div>
<div class="cell" style="left:1733.0px;top:1242.7px;width:138.6px;height:81.8px"><i style="height:89%"><b class="G" style="width:100%"></b></i><span class="ct" style="left:10.4px;top:12.9px;transform:scaleX(1.023)">63s</span></div>
<div class="cell" style="left:1880.7px;top:1242.7px;width:138.6px;height:81.8px"><span class="ct" style="left:10.4px;top:12.9px;transform:scaleX(1.023)">62s</span></div>
<div class="cell" style="left:109.1px;top:1333.5px;width:138.6px;height:81.8px"><i style="height:32%"><b class="B" style="width:100%"></b></i><span class="ct" style="left:11.4px;top:12.9px;transform:scaleX(0.971)">A5o</span></div>
<div class="cell" style="left:256.7px;top:1333.5px;width:138.6px;height:81.8px"><span class="ct" style="left:11.4px;top:12.9px;transform:scaleX(0.971)">K5o</span></div>
<div class="cell" style="left:404.4px;top:1333.5px;width:138.6px;height:81.8px"><span class="ct" style="left:11.4px;top:12.9px;transform:scaleX(0.969)">Q5o</span></div>
<div class="cell" style="left:552.0px;top:1333.5px;width:138.6px;height:81.8px"><span class="ct" style="left:11.4px;top:12.9px;transform:scaleX(0.976)">J5o</span></div>
<div class="cell" style="left:699.6px;top:1333.5px;width:138.6px;height:81.8px"><span class="ct" style="left:10.8px;top:12.9px;transform:scaleX(0.995)">T5o</span></div>
<div class="cell" style="left:847.2px;top:1333.5px;width:138.6px;height:81.8px"><span class="ct" style="left:10.4px;top:12.9px;transform:scaleX(1.021)">95o</span></div>
<div class="cell" style="left:994.9px;top:1333.5px;width:138.6px;height:81.8px"><span class="ct" style="left:10.4px;top:12.9px;transform:scaleX(1.021)">85o</span></div>
<div class="cell" style="left:1142.5px;top:1333.5px;width:138.6px;height:81.8px"><span class="ct" style="left:10.4px;top:12.9px;transform:scaleX(1.021)">75o</span></div>
<div class="cell" style="left:1290.1px;top:1333.5px;width:138.6px;height:81.8px"><i style="height:24.5%"><b class="G" style="width:98%"></b><b class="O" style="width:2%"></b></i><span class="ct" style="left:10.4px;top:12.9px;transform:scaleX(1.021)">65o</span></div>
<div class="cell" style="left:1437.8px;top:1333.5px;width:138.6px;height:81.8px"><i style="height:79.5%"><b class="B" style="width:100%"></b></i><span class="ct" style="left:10.4px;top:12.9px;transform:scaleX(1.060)">55</span></div>
<div class="cell" style="left:1585.4px;top:1333.5px;width:138.6px;height:81.8px"><i style="height:65%"><b class="B" style="width:96%"></b><b class="G" style="width:4%"></b></i><span class="ct" style="left:10.4px;top:12.9px;transform:scaleX(1.023)">54s</span></div>
<div class="cell" style="left:1733.0px;top:1333.5px;width:138.6px;height:81.8px"><i style="height:94.5%"><b class="G" style="width:100%"></b></i><span class="ct" style="left:10.4px;top:12.9px;transform:scaleX(1.023)">53s</span></div>
<div class="cell" style="left:1880.7px;top:1333.5px;width:138.6px;height:81.8px"><i style="height:94.5%"><b class="B" style="width:36%"></b><b class="O" style="width:64%"></b></i><span class="ct" style="left:10.4px;top:12.9px;transform:scaleX(1.023)">52s</span></div>
<div class="cell" style="left:109.1px;top:1424.3px;width:138.6px;height:81.8px"><span class="ct" style="left:11.4px;top:12.9px;transform:scaleX(0.971)">A4o</span></div>
<div class="cell" style="left:256.7px;top:1424.3px;width:138.6px;height:81.8px"><span class="ct" style="left:11.4px;top:12.9px;transform:scaleX(0.971)">K4o</span></div>
<div class="cell" style="left:404.4px;top:1424.3px;width:138.6px;height:81.8px"><span class="ct" style="left:11.4px;top:12.9px;transform:scaleX(0.969)">Q4o</span></div>
<div class="cell" style="left:552.0px;top:1424.3px;width:138.6px;height:81.8px"><span class="ct" style="left:11.4px;top:12.9px;transform:scaleX(0.976)">J4o</span></div>
<div class="cell" style="left:699.6px;top:1424.3px;width:138.6px;height:81.8px"><span class="ct" style="left:10.8px;top:12.9px;transform:scaleX(0.995)">T4o</span></div>
<div class="cell" style="left:847.2px;top:1424.3px;width:138.6px;height:81.8px"><span class="ct" style="left:10.4px;top:12.9px;transform:scaleX(1.021)">94o</span></div>
<div class="cell" style="left:994.9px;top:1424.3px;width:138.6px;height:81.8px"><span class="ct" style="left:10.4px;top:12.9px;transform:scaleX(1.021)">84o</span></div>
<div class="cell" style="left:1142.5px;top:1424.3px;width:138.6px;height:81.8px"><span class="ct" style="left:10.4px;top:12.9px;transform:scaleX(1.021)">74o</span></div>
<div class="cell" style="left:1290.1px;top:1424.3px;width:138.6px;height:81.8px"><span class="ct" style="left:10.4px;top:12.9px;transform:scaleX(1.021)">64o</span></div>
<div class="cell" style="left:1437.8px;top:1424.3px;width:138.6px;height:81.8px"><span class="ct" style="left:10.4px;top:12.9px;transform:scaleX(1.021)">54o</span></div>
<div class="cell" style="left:1585.4px;top:1424.3px;width:138.6px;height:81.8px"><i style="height:48.5%"><b class="B" style="width:100%"></b></i><span class="ct" style="left:10.4px;top:12.9px;transform:scaleX(1.060)">44</span></div>
<div class="cell" style="left:1733.0px;top:1424.3px;width:138.6px;height:81.8px"><i style="height:97%"><b class="G" style="width:100%"></b></i><span class="ct" style="left:10.4px;top:12.9px;transform:scaleX(1.023)">43s</span></div>
<div class="cell" style="left:1880.7px;top:1424.3px;width:138.6px;height:81.8px"><i style="height:97%"><b class="B" style="width:17%"></b><b class="O" style="width:83%"></b></i><span class="ct" style="left:10.4px;top:12.9px;transform:scaleX(1.023)">42s</span></div>
<div class="cell" style="left:109.1px;top:1515.1px;width:138.6px;height:81.8px"><span class="ct" style="left:11.4px;top:12.9px;transform:scaleX(0.971)">A3o</span></div>
<div class="cell" style="left:256.7px;top:1515.1px;width:138.6px;height:81.8px"><span class="ct" style="left:11.4px;top:12.9px;transform:scaleX(0.971)">K3o</span></div>
<div class="cell" style="left:404.4px;top:1515.1px;width:138.6px;height:81.8px"><span class="ct" style="left:11.4px;top:12.9px;transform:scaleX(0.969)">Q3o</span></div>
<div class="cell" style="left:552.0px;top:1515.1px;width:138.6px;height:81.8px"><span class="ct" style="left:11.4px;top:12.9px;transform:scaleX(0.976)">J3o</span></div>
<div class="cell" style="left:699.6px;top:1515.1px;width:138.6px;height:81.8px"><span class="ct" style="left:10.8px;top:12.9px;transform:scaleX(0.995)">T3o</span></div>
<div class="cell" style="left:847.2px;top:1515.1px;width:138.6px;height:81.8px"><span class="ct" style="left:10.4px;top:12.9px;transform:scaleX(1.021)">93o</span></div>
<div class="cell" style="left:994.9px;top:1515.1px;width:138.6px;height:81.8px"><span class="ct" style="left:10.4px;top:12.9px;transform:scaleX(1.021)">83o</span></div>
<div class="cell" style="left:1142.5px;top:1515.1px;width:138.6px;height:81.8px"><span class="ct" style="left:10.4px;top:12.9px;transform:scaleX(1.021)">73o</span></div>
<div class="cell" style="left:1290.1px;top:1515.1px;width:138.6px;height:81.8px"><span class="ct" style="left:10.4px;top:12.9px;transform:scaleX(1.021)">63o</span></div>
<div class="cell" style="left:1437.8px;top:1515.1px;width:138.6px;height:81.8px"><span class="ct" style="left:10.4px;top:12.9px;transform:scaleX(1.021)">53o</span></div>
<div class="cell" style="left:1585.4px;top:1515.1px;width:138.6px;height:81.8px"><span class="ct" style="left:10.4px;top:12.9px;transform:scaleX(1.021)">43o</span></div>
<div class="cell" style="left:1733.0px;top:1515.1px;width:138.6px;height:81.8px"><i style="height:70.5%"><b class="O" style="width:100%"></b></i><span class="ct" style="left:10.4px;top:12.9px;transform:scaleX(1.060)">33</span></div>
<div class="cell" style="left:1880.7px;top:1515.1px;width:138.6px;height:81.8px"><i style="height:97%"><b class="G" style="width:100%"></b></i><span class="ct" style="left:10.4px;top:12.9px;transform:scaleX(1.023)">32s</span></div>
<div class="cell" style="left:109.1px;top:1605.9px;width:138.6px;height:81.8px"><span class="ct" style="left:11.4px;top:12.9px;transform:scaleX(0.971)">A2o</span></div>
<div class="cell" style="left:256.7px;top:1605.9px;width:138.6px;height:81.8px"><span class="ct" style="left:11.4px;top:12.9px;transform:scaleX(0.971)">K2o</span></div>
<div class="cell" style="left:404.4px;top:1605.9px;width:138.6px;height:81.8px"><span class="ct" style="left:11.4px;top:12.9px;transform:scaleX(0.969)">Q2o</span></div>
<div class="cell" style="left:552.0px;top:1605.9px;width:138.6px;height:81.8px"><span class="ct" style="left:11.4px;top:12.9px;transform:scaleX(0.976)">J2o</span></div>
<div class="cell" style="left:699.6px;top:1605.9px;width:138.6px;height:81.8px"><span class="ct" style="left:10.8px;top:12.9px;transform:scaleX(0.995)">T2o</span></div>
<div class="cell" style="left:847.2px;top:1605.9px;width:138.6px;height:81.8px"><span class="ct" style="left:10.4px;top:12.9px;transform:scaleX(1.021)">92o</span></div>
<div class="cell" style="left:994.9px;top:1605.9px;width:138.6px;height:81.8px"><span class="ct" style="left:10.4px;top:12.9px;transform:scaleX(1.021)">82o</span></div>
<div class="cell" style="left:1142.5px;top:1605.9px;width:138.6px;height:81.8px"><span class="ct" style="left:10.4px;top:12.9px;transform:scaleX(1.021)">72o</span></div>
<div class="cell" style="left:1290.1px;top:1605.9px;width:138.6px;height:81.8px"><span class="ct" style="left:10.4px;top:12.9px;transform:scaleX(1.021)">62o</span></div>
<div class="cell" style="left:1437.8px;top:1605.9px;width:138.6px;height:81.8px"><span class="ct" style="left:10.4px;top:12.9px;transform:scaleX(1.021)">52o</span></div>
<div class="cell" style="left:1585.4px;top:1605.9px;width:138.6px;height:81.8px"><span class="ct" style="left:10.4px;top:12.9px;transform:scaleX(1.021)">42o</span></div>
<div class="cell" style="left:1733.0px;top:1605.9px;width:138.6px;height:81.8px"><span class="ct" style="left:10.4px;top:12.9px;transform:scaleX(1.021)">32o</span></div>
<div class="cell" style="left:1880.7px;top:1605.9px;width:138.6px;height:81.8px"><i style="height:55%"><b class="B" style="width:100%"></b></i><span class="ct" style="left:10.4px;top:12.9px;transform:scaleX(1.060)">22</span></div>
<div class="panel" style="left:2052.4px;top:500.3px;width:1294.3px;height:164.5px;border-radius:30px"></div>
<div style="position:absolute;left:2064.3px;top:511.9px;width:308.8px;height:105.1px;background:#2b6cb0;border-radius:24px"></div><span class="t" style="left:2078.1px;top:528.1px;font-size:33px;font-weight:700;color:#fff;letter-spacing:0.70px;-webkit-text-stroke:.7px #fff;">Fold</span><span class="t" style="left:2079.1px;top:576.5px;font-size:27px;font-weight:700;color:#fff;letter-spacing:1.1px;-webkit-text-stroke:.5px #fff;">37.33%</span><span class="t" style="right:1072.8px;top:568.8px;font-size:24.6px;font-weight:400;color:#fff;letter-spacing:1.0px;">80.0</span><span class="t" style="right:1073.3px;top:592.8px;font-size:18.1px;font-weight:400;color:#fff;">combos</span>
<div style="position:absolute;left:2384.9px;top:511.9px;width:308.8px;height:105.1px;background:#047857;border-radius:24px"></div><span class="t" style="left:2398.7px;top:528.1px;font-size:33px;font-weight:700;color:#fff;letter-spacing:1.40px;-webkit-text-stroke:.7px #fff;">Call</span><span class="t" style="left:2399.7px;top:576.5px;font-size:27px;font-weight:700;color:#fff;letter-spacing:1.1px;-webkit-text-stroke:.5px #fff;">54.69%</span><span class="t" style="right:751.5px;top:568.8px;font-size:24.6px;font-weight:400;color:#fff;letter-spacing:1.7px;">117.3</span><span class="t" style="right:752.7px;top:592.8px;font-size:18.1px;font-weight:400;color:#fff;">combos</span>
<div style="position:absolute;left:2705.5px;top:511.9px;width:308.8px;height:105.1px;background:#b46e3c;border-radius:24px"></div><span class="t" style="left:2719.3px;top:528.1px;font-size:33px;font-weight:700;color:#fff;letter-spacing:1.20px;-webkit-text-stroke:.7px #fff;">Raise 28.8</span><span class="t" style="left:2720.3px;top:576.5px;font-size:27px;font-weight:700;color:#fff;letter-spacing:1.1px;-webkit-text-stroke:.5px #fff;">7.98%</span><span class="t" style="right:431.5px;top:568.8px;font-size:24.6px;font-weight:400;color:#fff;letter-spacing:1.1px;">17.1</span><span class="t" style="right:432.1px;top:592.8px;font-size:18.1px;font-weight:400;color:#fff;">combos</span>
<div style="position:absolute;left:3026.1px;top:511.9px;width:308.8px;height:105.1px;background:#7f1d1d;border-radius:24px"></div><span class="t" style="left:3039.9px;top:528.1px;font-size:33px;font-weight:700;color:#fff;letter-spacing:0.80px;-webkit-text-stroke:.7px #fff;">All in 94</span><span class="t" style="left:3040.9px;top:576.5px;font-size:27px;font-weight:700;color:#fff;letter-spacing:1.1px;-webkit-text-stroke:.5px #fff;">0%</span><span class="t" style="right:112.0px;top:568.8px;font-size:24.6px;font-weight:400;color:#fff;letter-spacing:0px;">0</span><span class="t" style="right:111.5px;top:592.8px;font-size:18.1px;font-weight:400;color:#fff;">combos</span>
<div style="position:absolute;left:2065.9px;top:623.1px;width:1267.4px;height:27.9px;border-radius:14px;overflow:hidden;display:flex"><b style="width:473.1px;background:#2b6cb0"></b><b style="width:692.6px;background:#047857"></b><b style="flex:1;background:#b46e3c"></b></div>
<div class="panel" style="left:2052.4px;top:681.1px;width:1294.3px;height:118.8px;border-radius:30px"></div>
<span class="t" style="left:2070.8px;top:703.5px;font-size:19px;font-weight:700;color:#d5d8df;letter-spacing:2.2px;">GTO</span>
<svg style="left:0;top:0" width="1" height="1"><circle cx="3309" cy="710.1" r="11.3" fill="#7b8396"/><circle cx="3309.3" cy="705.4" r="1.7" fill="#1a2030"/><path d="M3307.1,709.1 L3309.4,708.7 L3308.7,714.7 Q3308.7,716.0 3311.2,715.1" fill="none" stroke="#1a2030" stroke-width="2" stroke-linecap="round" stroke-linejoin="round"/></svg>
<div style="position:absolute;left:2072.2px;top:745.3px;width:484.7px;height:46.2px;background:#1e2e50;border:2px solid #254a80;border-radius:13px;overflow:hidden"><div style="display:flex;justify-content:center;align-items:baseline;gap:12.5px;line-height:1;margin-top:9.7px;white-space:nowrap"><span style="font-size:21px;color:#a7adba">Fold</span><span style="font-size:22.3px;font-weight:700;color:#fff">40%</span></div></div>
<div style="position:absolute;left:2569.3px;top:745.3px;width:653.4px;height:46.2px;background:#1a343b;border:2px solid #1b5749;border-radius:13px;overflow:hidden"><div style="display:flex;justify-content:center;align-items:baseline;gap:12.5px;line-height:1;margin-top:9.7px;white-space:nowrap"><span style="font-size:21px;color:#a7adba">Call</span><span style="font-size:22.3px;font-weight:700;color:#fff">55%</span></div></div>
<div style="position:absolute;left:3235.1px;top:745.3px;width:91.9px;height:46.2px;background:#3a2c34;border:2px solid #7c523b;border-radius:13px;overflow:hidden"><span class="t" style="left:15.1px;top:9.9px;width:9.6px;height:24px;overflow:hidden"><span class="t" style="left:0;top:0;font-size:21px;color:#a7adba;transform:scaleX(.86);transform-origin:0 50%">R</span></span><span class="t" style="left:37.2px;top:10.6px;font-size:22.3px;font-weight:700;color:#fff">5%</span></div>
<div class="panel" style="left:2052.4px;top:816px;width:1294.3px;height:117.6px;border-radius:30px"></div>
<span class="t" style="left:2070.8px;top:837.9px;font-size:19px;font-weight:700;color:#d5d8df;letter-spacing:2.25px;">POPULATION</span>
<svg style="left:0;top:0" width="1" height="1"><circle cx="3309" cy="845" r="11.3" fill="#7b8396"/><circle cx="3309.3" cy="840.3" r="1.7" fill="#1a2030"/><path d="M3307.1,844 L3309.4,843.6 L3308.7,849.6 Q3308.7,850.9 3311.2,850" fill="none" stroke="#1a2030" stroke-width="2" stroke-linecap="round" stroke-linejoin="round"/></svg>
<div style="position:absolute;left:2072.2px;top:879.8px;width:529.6px;height:46.2px;background:#1e2e50;border:2px solid #254a80;border-radius:13px;overflow:hidden"><div style="display:flex;justify-content:center;align-items:baseline;gap:12.5px;line-height:1;margin-top:9.7px;white-space:nowrap"><span style="font-size:21px;color:#a7adba">Fold</span><span style="font-size:22.3px;font-weight:700;color:#fff">44%</span></div></div>
<div style="position:absolute;left:2614.2px;top:879.8px;width:597.4px;height:46.2px;background:#1a343b;border:2px solid #1b5749;border-radius:13px;overflow:hidden"><div style="display:flex;justify-content:center;align-items:baseline;gap:12.5px;line-height:1;margin-top:9.7px;white-space:nowrap"><span style="font-size:21px;color:#a7adba">Call</span><span style="font-size:22.3px;font-weight:700;color:#fff">50%</span></div></div>
<div style="position:absolute;left:3224.0px;top:879.8px;width:103.0px;height:46.2px;background:#3a2c34;border:2px solid #7c523b;border-radius:13px;overflow:hidden"><span class="t" style="left:15.0px;top:9.9px;width:20.5px;height:24px;overflow:hidden"><span class="t" style="left:0;top:0;font-size:21px;color:#a7adba;transform:scaleX(.86);transform-origin:0 50%">R.</span></span><span class="t" style="left:48.3px;top:10.6px;font-size:22.3px;font-weight:700;color:#fff">6%</span></div>
<div class="panel" style="left:2052.2px;top:950.2px;width:1294.4px;height:753.2px;border-radius:30px"></div>
<div style="position:absolute;left:2068.4px;top:967.3px;width:413.8px;height:354.7px;background:rgba(31,41,55,.5);border:2px solid rgba(10,12,20,.22);border-radius:9px"></div>
<div style="position:absolute;left:2079.7px;top:966.0px;width:39.5px;height:33.0px;background:rgba(0,0,0,.10);border-radius:7px"></div><span class="t" style="left:2083.0px;top:973.3px;font-size:20.6px;font-weight:700;color:#8e3344;font-family:'DejaVu Sans','Liberation Sans',sans-serif;letter-spacing:-.9px;">A♥</span><div style="position:absolute;left:2118.1px;top:966.0px;width:39.5px;height:33.0px;background:rgba(0,0,0,.10);border-radius:7px"></div><span class="t" style="left:2121.4px;top:973.3px;font-size:20.6px;font-weight:700;color:#2b559b;font-family:'DejaVu Sans','Liberation Sans',sans-serif;letter-spacing:-.9px;">A♦</span>
<div style="position:absolute;left:2491.7px;top:967.3px;width:413.8px;height:354.7px;background:rgba(31,41,55,.5);border:2px solid rgba(10,12,20,.22);border-radius:9px"></div>
<div style="position:absolute;left:2503.0px;top:966.0px;width:39.5px;height:33.0px;background:rgba(0,0,0,.10);border-radius:7px"></div><span class="t" style="left:2506.3px;top:973.3px;font-size:20.6px;font-weight:700;color:#8e3344;font-family:'DejaVu Sans','Liberation Sans',sans-serif;letter-spacing:-.9px;">A♥</span><div style="position:absolute;left:2541.4px;top:966.0px;width:39.5px;height:33.0px;background:rgba(0,0,0,.10);border-radius:7px"></div><span class="t" style="left:2544.7px;top:973.3px;font-size:20.6px;font-weight:700;color:#1f7a50;font-family:'DejaVu Sans','Liberation Sans',sans-serif;letter-spacing:-.9px;">A♣</span>
<div style="position:absolute;left:2915.0px;top:967.3px;width:413.8px;height:354.7px;background:rgba(31,41,55,.5);border:2px solid rgba(10,12,20,.22);border-radius:9px"></div>
<div style="position:absolute;left:2926.3px;top:966.0px;width:39.5px;height:33.0px;background:rgba(0,0,0,.10);border-radius:7px"></div><span class="t" style="left:2929.6px;top:973.3px;font-size:20.6px;font-weight:700;color:#8e3344;font-family:'DejaVu Sans','Liberation Sans',sans-serif;letter-spacing:-.9px;">A♥</span><div style="position:absolute;left:2964.7px;top:966.0px;width:39.5px;height:33.0px;background:rgba(0,0,0,.10);border-radius:7px"></div><span class="t" style="left:2968.0px;top:973.3px;font-size:20.6px;font-weight:700;color:#616a7c;font-family:'DejaVu Sans','Liberation Sans',sans-serif;letter-spacing:-.9px;">A♠</span>
<div style="position:absolute;left:2068.4px;top:1332.6px;width:413.8px;height:354.7px;background:rgba(31,41,55,.5);border:2px solid rgba(10,12,20,.22);border-radius:9px"></div>
<div style="position:absolute;left:2079.7px;top:1331.3px;width:39.5px;height:33.0px;background:rgba(0,0,0,.10);border-radius:7px"></div><span class="t" style="left:2083.0px;top:1338.6px;font-size:20.6px;font-weight:700;color:#2b559b;font-family:'DejaVu Sans','Liberation Sans',sans-serif;letter-spacing:-.9px;">A♦</span><div style="position:absolute;left:2118.1px;top:1331.3px;width:39.5px;height:33.0px;background:rgba(0,0,0,.10);border-radius:7px"></div><span class="t" style="left:2121.4px;top:1338.6px;font-size:20.6px;font-weight:700;color:#1f7a50;font-family:'DejaVu Sans','Liberation Sans',sans-serif;letter-spacing:-.9px;">A♣</span>
<div style="position:absolute;left:2491.7px;top:1332.6px;width:413.8px;height:354.7px;background:rgba(31,41,55,.5);border:2px solid rgba(10,12,20,.22);border-radius:9px"></div>
<div style="position:absolute;left:2503.0px;top:1331.3px;width:39.5px;height:33.0px;background:rgba(0,0,0,.10);border-radius:7px"></div><span class="t" style="left:2506.3px;top:1338.6px;font-size:20.6px;font-weight:700;color:#2b559b;font-family:'DejaVu Sans','Liberation Sans',sans-serif;letter-spacing:-.9px;">A♦</span><div style="position:absolute;left:2541.4px;top:1331.3px;width:39.5px;height:33.0px;background:rgba(0,0,0,.10);border-radius:7px"></div><span class="t" style="left:2544.7px;top:1338.6px;font-size:20.6px;font-weight:700;color:#616a7c;font-family:'DejaVu Sans','Liberation Sans',sans-serif;letter-spacing:-.9px;">A♠</span>
<div style="position:absolute;left:2915.0px;top:1332.6px;width:413.8px;height:354.7px;background:rgba(31,41,55,.5);border:2px solid rgba(10,12,20,.22);border-radius:9px"></div>
<div style="position:absolute;left:2926.3px;top:1331.3px;width:39.5px;height:33.0px;background:rgba(0,0,0,.10);border-radius:7px"></div><span class="t" style="left:2929.6px;top:1338.6px;font-size:20.6px;font-weight:700;color:#1f7a50;font-family:'DejaVu Sans','Liberation Sans',sans-serif;letter-spacing:-.9px;">A♣</span><div style="position:absolute;left:2964.7px;top:1331.3px;width:39.5px;height:33.0px;background:rgba(0,0,0,.10);border-radius:7px"></div><span class="t" style="left:2968.0px;top:1338.6px;font-size:20.6px;font-weight:700;color:#616a7c;font-family:'DejaVu Sans','Liberation Sans',sans-serif;letter-spacing:-.9px;">A♠</span>
</body></html>
